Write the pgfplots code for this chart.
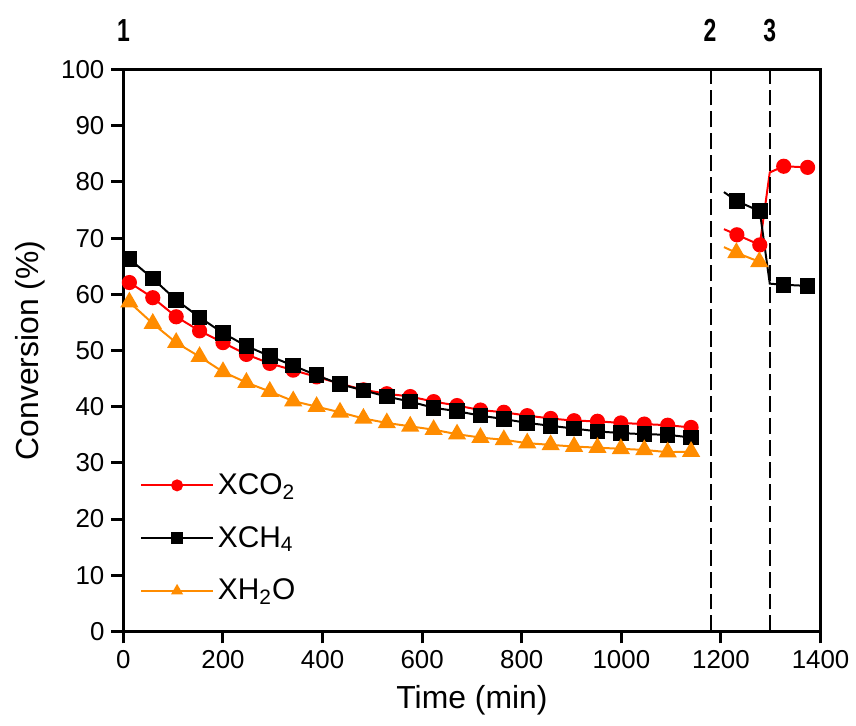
\documentclass[border=0pt]{standalone}
\usepackage{fontspec}
\setmainfont{Liberation Sans}
\usepackage{graphicx}
\usepackage{pgfplots}
\pgfplotsset{compat=1.18}
\definecolor{cred}{HTML}{FF0000}
\definecolor{corange}{HTML}{FF8C00}

\begin{document}
\begin{tikzpicture}
\begin{axis}[
    scale only axis,
    width=350pt, height=282pt,
    xmin=0, xmax=1400, ymin=0, ymax=100,
    xtick={0,200,...,1400}, ytick={0,10,...,100},
    xtick pos=bottom, ytick pos=left,
    tick align=outside, major tick length=6pt,
    axis line style={line width=1.5pt},
    every tick/.style={black, line width=1.5pt},
    tick label style={font=\fontsize{13}{15}\selectfont},
    /pgf/number format/assume math mode=true,
    /pgf/number format/set thousands separator={},
    xlabel={Time (min)}, ylabel={Conversion (\%)},
    label style={font=\fontsize{16}{19}\selectfont},
    xlabel style={at={(axis description cs:0.5,-0.122)}, anchor=center},
    ylabel style={at={(axis description cs:-0.134,0.5)}, anchor=center},
    clip=false,
    legend cell align=left,
    legend style={draw=none, fill=none, at={(0.015,0.296)}, anchor=north west,
        font=\fontsize{15}{17}\selectfont, row sep=10.5pt},
    legend image code/.code={\draw[mark repeat=2, mark phase=2, mark size=2.5pt]
        plot coordinates {(0pt,0pt) (18pt,0pt) (36pt,0pt)};},
]
% stage 1
\addplot[cred, line width=1pt, mark=*, mark size=3.3pt] coordinates {
(12,62.1) (59,59.4) (106,56.0) (153,53.5) (200,51.4) (247,49.3) (294,47.7)
(341,46.5) (388,45.3) (435,44.1) (482,43.0) (529,42.3) (576,41.8) (623,40.9)
(670,40.2) (717,39.4) (764,39.0) (811,38.4) (858,37.9) (905,37.5) (952,37.4)
(999,37.1) (1046,36.9) (1093,36.7) (1140,36.3)
};
\addlegendentry{XCO\textsubscript{2}}
\addplot[black, line width=1pt, mark=square*, mark size=3.4pt] coordinates {
(12,66.3) (59,62.8) (106,59.0) (153,55.9) (200,53.1) (247,50.8) (294,49.0)
(341,47.3) (388,45.6) (435,44.0) (482,42.9) (529,41.8) (576,40.9) (623,39.8)
(670,39.2) (717,38.4) (764,37.8) (811,37.1) (858,36.6) (905,36.1) (952,35.6)
(999,35.3) (1046,35.1) (1093,35.0) (1140,34.5)
};
\addlegendentry{XCH\textsubscript{4}}
\addplot[corange, line width=1pt, mark=triangle*, mark size=4.3pt] coordinates {
(12,58.6) (59,54.8) (106,51.4) (153,48.9) (200,46.2) (247,44.3) (294,42.7)
(341,41.0) (388,40.0) (435,39.0) (482,37.9) (529,37.1) (576,36.5) (623,35.9)
(670,35.1) (717,34.5) (764,34.1) (811,33.5) (858,33.2) (905,32.9) (952,32.7)
(999,32.5) (1046,32.3) (1093,31.9) (1140,32.0)
};
\addlegendentry{XH\textsubscript{2}O}
% stages 2 and 3
\addplot[forget plot, cred, line width=1pt, mark=*, mark size=3.3pt, mark indices={2,3,5,6}] coordinates {
(1206,71.6) (1232,70.6) (1278,68.8) (1298,81.7) (1326,82.8) (1374,82.6)
};
\addplot[forget plot, black, line width=1pt, mark=square*, mark size=3.4pt, mark indices={2,3,5,6}] coordinates {
(1206,78.2) (1232,76.6) (1278,74.8) (1298,61.9) (1326,61.7) (1374,61.5)
};
\addplot[forget plot, corange, line width=1pt, mark=triangle*, mark size=4.3pt, mark indices={2,3}] coordinates {
(1206,68.4) (1231,67.4) (1277,65.8) (1292,65.0)
};
% stage boundaries
\addplot[forget plot, black, line width=0.85pt, dash pattern=on 8pt off 3pt] coordinates {(1180,0) (1180,100)};
\addplot[forget plot, black, line width=0.85pt, dash pattern=on 8pt off 3pt] coordinates {(1299,0) (1299,100)};
\node[font=\bfseries\fontsize{16}{18}\selectfont] at (axis cs:0,107) {\scalebox{0.72}[1]{1}};
\node[font=\bfseries\fontsize{16}{18}\selectfont] at (axis cs:1178,107) {\scalebox{0.72}[1]{2}};
\node[font=\bfseries\fontsize{16}{18}\selectfont] at (axis cs:1298,107) {\scalebox{0.72}[1]{3}};
% page frame with the reference's margins
\path (rel axis cs:-0.177,-0.168) rectangle (rel axis cs:1.046,1.124);
\end{axis}
\end{tikzpicture}
\end{document}
